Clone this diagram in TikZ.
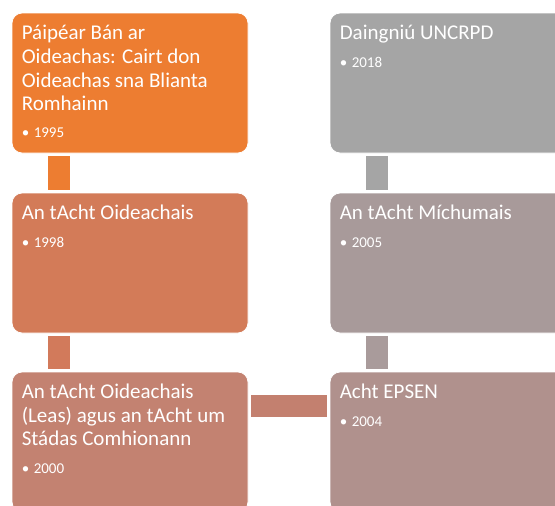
\documentclass[tikz,border=0pt]{standalone}
\usepackage{fontspec}
\setmainfont{Carlito}
\usepackage{tikz}
\definecolor{boxorange}{HTML}{ED7D31}
\definecolor{boxrust}{HTML}{D37B58}
\definecolor{boxclay}{HTML}{C38271}
\definecolor{boxgrey}{HTML}{A5A5A5}
\definecolor{boxtaupe}{HTML}{A89A9A}
\definecolor{boxrose}{HTML}{B0918D}
\definecolor{linkrust}{HTML}{D27A5B}
\definecolor{linkclay}{HTML}{C3806F}
\definecolor{linktaupe}{HTML}{A99B9B}
\newcommand{\yearitem}[1]{\makebox[12pt][l]{•}#1}
\tikzstyle{event}=[rectangle, rounded corners=10pt, minimum width=236pt, minimum height=140pt, draw=white, line width=0.8pt, inner sep=0pt]
\tikzstyle{title}=[anchor=base west, inner sep=0pt, align=left, text=white, font=\fontsize{21}{23.6}\selectfont]
\tikzstyle{year}=[anchor=base west, inner sep=0pt, text=white, font=\fontsize{15}{17}\selectfont]
\tikzstyle{link}=[line width=22pt, shorten <=3pt, shorten >=3pt]

\begin{document}
\begin{tikzpicture}[x=1pt, y=-1pt]
		   \useasboundingbox (0, 0) rectangle (555, 506);
		   \clip (0, 0) rectangle (555, 506);
		   \begin{scope}
			   \node (white) at (130, 83)[event, fill=boxorange] {};
			   \node (act98) at (130, 263)[event, fill=boxrust] {};
			   \node (act00) at (130, 442)[event, fill=boxclay] {};
			   \node (uncrpd) at (448, 83)[event, fill=boxgrey] {};
			   \node (disab) at (448, 263)[event, fill=boxtaupe] {};
			   \node (epsen) at (448, 442)[event, fill=boxrose] {};
		   \end{scope}
		   \begin{scope}
			   % base of a multi-line title is its last line
			   \node (t1) at ([shift={(10, 98)}]white.north west)[title] {Páipéar Bán ar\\Oideachas: Cairt don\\Oideachas sna Blianta\\Romhainn};
			   \node (y1) at ([shift={(10, 125)}]white.north west)[year] {\yearitem{1995}};
			   \node (t2) at ([shift={(10, 27)}]act98.north west)[title] {An tAcht Oideachais};
			   \node (y2) at ([shift={(10, 55)}]act98.north west)[year] {\yearitem{1998}};
			   \node (t3) at ([shift={(10, 74)}]act00.north west)[title] {An tAcht Oideachais\\(Leas) agus an tAcht um\\Stádas Comhionann};
			   \node (y3) at ([shift={(10, 102)}]act00.north west)[year] {\yearitem{2000}};
			   \node (t4) at ([shift={(10, 27)}]uncrpd.north west)[title] {Daingniú UNCRPD};
			   \node (y4) at ([shift={(10, 55)}]uncrpd.north west)[year] {\yearitem{2018}};
			   \node (t5) at ([shift={(10, 27)}]disab.north west)[title] {An tAcht Míchumais};
			   \node (y5) at ([shift={(10, 55)}]disab.north west)[year] {\yearitem{2005}};
			   \node (t6) at ([shift={(10, 27)}]epsen.north west)[title] {Acht EPSEN};
			   \node (y6) at ([shift={(10, 55)}]epsen.north west)[year] {\yearitem{2004}};
		   \end{scope}
		   \begin{scope}
			   \draw [link, boxorange] ([xshift=47pt]white.south west) -- ([xshift=47pt]act98.north west);
			   \draw [link, linkrust] ([xshift=47pt]act98.south west) -- ([xshift=47pt]act00.north west);
			   \draw [link, linkclay] ([yshift=-34pt]act00.north east) -- ([yshift=-34pt]epsen.north west);
			   \draw [link, linktaupe] ([xshift=47pt]epsen.north west) -- ([xshift=47pt]disab.south west);
			   \draw [link, boxgrey] ([xshift=47pt]disab.north west) -- ([xshift=47pt]uncrpd.south west);
		   \end{scope}
\end{tikzpicture}
\end{document}
